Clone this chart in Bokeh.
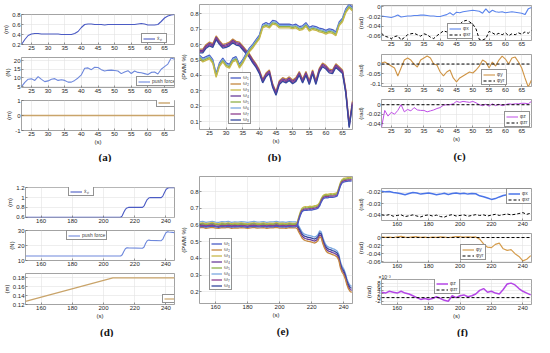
from bokeh.plotting import figure
from bokeh.models import Range1d, FixedTicker, CustomJSTickFormatter, Legend, LegendItem
from bokeh.layouts import column, row
from bokeh.embed import file_html
from bokeh.resources import INLINE
from bokeh.core.properties import value

# ---------------- data ----------------
t_a = list(range(22, 69))
a1_xp = [0.20, 0.30, 0.38, 0.41, 0.42, 0.42, 0.41, 0.41, 0.41, 0.41,
         0.41, 0.41, 0.40, 0.40, 0.40, 0.40, 0.42, 0.46, 0.54, 0.60,
         0.61, 0.61, 0.60, 0.60, 0.60, 0.59, 0.60, 0.60, 0.60, 0.60,
         0.60, 0.60, 0.60, 0.60, 0.60, 0.61, 0.62, 0.61, 0.59, 0.59,
         0.59, 0.60, 0.66, 0.73, 0.77, 0.79, 0.80]
a2_force = [5.0, 7.5, 9.3, 9.5, 8.6, 10.8, 9.2, 7.9, 8.3, 9.3,
            9.6, 8.6, 9.0, 8.6, 7.6, 7.6, 8.6, 10.0, 11.8, 15.6,
            15.8, 14.8, 16.2, 16.0, 14.8, 14.0, 14.4, 14.5, 14.3, 14.0,
            12.5, 13.5, 14.2, 12.6, 14.0, 13.2, 13.0, 12.5, 12.0, 13.2,
            13.4, 12.3, 15.0, 16.5, 18.0, 21.5, 20.8]
a3_t = [22, 68]
a3_v = [0.0, 0.0]

b_U = [0.565, 0.565, 0.595, 0.610, 0.600, 0.650, 0.620, 0.595, 0.600, 0.610,
       0.630, 0.615, 0.610, 0.585, 0.560, 0.535, 0.500, 0.470, 0.430, 0.370,
       0.410, 0.430, 0.340, 0.290, 0.360, 0.380, 0.370, 0.385, 0.365, 0.380,
       0.420, 0.370, 0.420, 0.360, 0.430, 0.360, 0.440, 0.475, 0.460, 0.435,
       0.430, 0.470, 0.450, 0.430, 0.300, 0.080, 0.230]
b_L = [0.520, 0.500, 0.510, 0.520, 0.490, 0.400, 0.470, 0.500, 0.470, 0.460,
       0.500, 0.510, 0.460, 0.490, 0.530, 0.565, 0.590, 0.620, 0.650, 0.720,
       0.730, 0.720, 0.745, 0.740, 0.720, 0.720, 0.720, 0.720, 0.715, 0.720,
       0.705, 0.710, 0.730, 0.700, 0.710, 0.705, 0.695, 0.690, 0.680, 0.690,
       0.685, 0.670, 0.735, 0.760, 0.820, 0.850, 0.830]
b_U_members = [2, 4, 7, 8]
b_U_spread = [0.006, -0.002, -0.010, -0.018]
b_L_members = [1, 6, 5, 3]
b_L_spread = [0.012, 0.004, -0.004, -0.012]
motor_names = ["ω₁", "ω₂", "ω₃", "ω₄", "ω₅", "ω₆", "ω₇", "ω₈"]
motor_colors = ["#4a5cc4", "#c5873e", "#c8b84a", "#6a3d9a",
                "#8fb04a", "#7aa8e0", "#8e3f8e", "#34479e"]

c1_phi = [-0.019, -0.020, -0.021, -0.022, -0.020, -0.017, -0.021, -0.020, -0.019, -0.019,
          -0.018, -0.018, -0.017, -0.017, -0.018, -0.019, -0.019, -0.020, -0.020, -0.018,
          -0.016, -0.012, -0.017, -0.011, -0.012, -0.010, -0.009, -0.008, -0.007, -0.008,
          -0.009, -0.013, -0.004, -0.012, -0.007, -0.010, -0.011, -0.010, -0.012, -0.011,
          -0.010, -0.011, -0.012, -0.013, -0.016, -0.004, -0.001]
c1_ref = [-0.055, -0.061, -0.063, -0.066, -0.062, -0.060, -0.069, -0.064, -0.058, -0.056,
          -0.055, -0.058, -0.061, -0.056, -0.058, -0.063, -0.066, -0.060, -0.055, -0.050,
          -0.052, -0.056, -0.049, -0.043, -0.036, -0.030, -0.028, -0.031, -0.036, -0.046,
          -0.068, -0.069, -0.066, -0.051, -0.054, -0.058, -0.055, -0.058, -0.054, -0.060,
          -0.056, -0.058, -0.054, -0.057, -0.052, -0.055, -0.049]
c2_phi = [0.005, 0.010, 0.000, -0.010, -0.020, -0.060, -0.020, 0.020, 0.030, 0.020,
          0.000, -0.015, 0.020, 0.030, 0.040, 0.030, 0.000, -0.005, -0.040, -0.060,
          -0.040, -0.030, -0.070, -0.090, -0.070, -0.060, -0.050, -0.040, -0.045, -0.030,
          -0.010, 0.020, 0.010, -0.020, 0.010, -0.010, 0.020, 0.040, 0.025, 0.000,
          0.030, 0.035, 0.010, -0.020, -0.070, -0.115, -0.080]
c3_phi = [-0.048, -0.012, -0.024, -0.016, -0.020, -0.012, 0.000, -0.015, -0.010, -0.013,
          -0.006, -0.011, -0.012, -0.012, -0.015, -0.013, -0.011, -0.008, -0.006, -0.001,
          0.000, 0.000, 0.002, 0.007, 0.005, 0.007, 0.006, 0.005, 0.007, 0.004,
          0.000, -0.002, 0.001, -0.003, 0.002, -0.002, 0.001, -0.002, 0.000, 0.002,
          0.001, 0.002, 0.002, 0.003, 0.003, 0.002, 0.007]
zero_a = [0.0, 0.0]

d1_t = [150, 211, 212, 213, 214, 215, 216, 225, 226, 227, 228, 229, 230, 237, 238, 239, 240, 241, 242, 245.5]
d1_xp = [0.6, 0.6, 0.63, 0.7, 0.76, 0.79, 0.8, 0.8, 0.83, 0.9, 0.96, 0.99, 1.0, 1.0, 1.03, 1.1, 1.16, 1.19, 1.2, 1.2]
d2_force = [13.0, 13.0, 13.8, 16.0, 17.8, 18.5, 18.4, 18.2, 19.0, 21.5, 23.2, 23.6, 23.4, 23.2, 24.2, 26.5, 28.5, 29.2, 29.0, 28.6]
d3_t = [150, 206, 245.5]
d3_v = [0.127, 0.18, 0.18]

e_t = list(range(150, 211, 2)) + list(range(211, 246))
e_pre = [0.600, 0.603, 0.598, 0.601, 0.604, 0.599, 0.597, 0.602, 0.600, 0.603,
         0.598, 0.601, 0.599, 0.602, 0.600, 0.597, 0.601, 0.603, 0.599, 0.600,
         0.602, 0.598, 0.601, 0.600, 0.604, 0.599, 0.601, 0.598, 0.602, 0.600,
         0.601]
e_up_post = [0.605, 0.640, 0.670, 0.690, 0.697, 0.700, 0.698, 0.700, 0.702, 0.700,
             0.703, 0.705, 0.707, 0.712, 0.725, 0.748, 0.765, 0.772, 0.775, 0.773,
             0.776, 0.778, 0.776, 0.778, 0.780, 0.785, 0.815, 0.845, 0.862, 0.868,
             0.870, 0.872, 0.874, 0.873, 0.875]
e_low_post = [0.595, 0.575, 0.558, 0.540, 0.530, 0.525, 0.522, 0.520, 0.518, 0.515,
              0.512, 0.510, 0.515, 0.525, 0.548, 0.540, 0.505, 0.480, 0.462, 0.452,
              0.448, 0.445, 0.440, 0.438, 0.432, 0.425, 0.405, 0.360, 0.335, 0.320,
              0.295, 0.260, 0.235, 0.220, 0.215]
e_up_members = [3, 5, 7, 1]
e_up_spread = [0.010, 0.003, -0.004, -0.011]
e_low_members = [6, 8, 4, 2]
e_low_spread = [0.018, 0.006, -0.006, -0.018]

f_t = [150 + 2.5 * k for k in range(39)]
f1_phi = [-0.0190, -0.0195, -0.0192, -0.0200, -0.0205, -0.0212, -0.0220, -0.0210, -0.0200, -0.0205,
          -0.0215, -0.0210, -0.0205, -0.0212, -0.0220, -0.0215, -0.0208, -0.0218, -0.0210, -0.0205,
          -0.0212, -0.0208, -0.0215, -0.0210, -0.0212, -0.0230, -0.0238, -0.0250, -0.0262, -0.0255,
          -0.0240, -0.0228, -0.0220, -0.0222, -0.0218, -0.0225, -0.0235, -0.0285, -0.0292]
f1_ref = [-0.0400, -0.0405, -0.0398, -0.0412, -0.0405, -0.0400, -0.0415, -0.0408, -0.0400, -0.0410,
          -0.0418, -0.0405, -0.0400, -0.0410, -0.0402, -0.0415, -0.0420, -0.0405, -0.0398, -0.0410,
          -0.0405, -0.0400, -0.0412, -0.0405, -0.0398, -0.0405, -0.0400, -0.0410, -0.0402, -0.0395,
          -0.0405, -0.0398, -0.0392, -0.0400, -0.0395, -0.0388, -0.0380, -0.0395, -0.0385]
f2_phi = [0.0015, 0.0005, 0.0010, 0.0000, 0.0020, 0.0030, 0.0010, 0.0005, 0.0015, 0.0020,
          0.0005, 0.0010, 0.0000, 0.0010, 0.0005, 0.0015, 0.0010, 0.0000, 0.0010, 0.0025,
          0.0020, 0.0010, 0.0015, 0.0010, 0.0015, -0.0040, -0.0160, -0.0240, -0.0250, -0.0170,
          -0.0140, -0.0280, -0.0320, -0.0300, -0.0400, -0.0470, -0.0580, -0.0540, -0.0450]
f3_phi_e3 = [3.0, 2.5, 3.5, 3.0, 2.5, 3.5, 2.5, 2.0, 1.0, 0.0,
             -1.0, -0.5, -1.0, -0.5, 0.5, -0.5, -1.5, -2.0, 1.0, 0.0,
             1.0, 1.5, 0.5, 1.0, 2.0, 4.0, 5.0, 3.0, 3.5, 2.5,
             2.0, 4.5, 7.5, 8.0, 7.0, 5.0, 3.5, 2.5, 1.5]
t_d = [150, 245.5]
zero_d = [0.0, 0.0]

panel_labels = ["(a)", "(b)", "(c)", "(d)", "(e)", "(f)"]

# ---------------- styling helpers ----------------
FONT = "Liberation Sans"
BLUE = "#4b5bc4"
LBLUE = "#6e88dc"
TAN = "#c9a46a"
C_BLUE = "#5a84ec"
C_ORANGE = "#cf9445"
C_VIOLET = "#bf4ee6"
DASH = "3 2"


def mk(w, h, xr, yr, xt, yt, bl, br, bt, bb, ylab, xlab=None):
    p = figure(width=w, height=h, x_range=Range1d(*xr), y_range=Range1d(*yr),
               output_backend="svg", toolbar_location=None,
               min_border_left=bl, min_border_right=br,
               min_border_top=bt, min_border_bottom=bb)
    p.background_fill_color = "white"
    p.border_fill_color = "white"
    p.outline_line_color = "#8c8c8c"
    p.outline_line_width = 0.8
    for ax, ticks in ((p.xaxis[0], xt), (p.yaxis[0], yt)):
        ax.ticker = FixedTicker(ticks=ticks)
        ax.formatter = CustomJSTickFormatter(code="return String(Math.round(tick*1e6)/1e6);")
        ax.major_label_text_font = FONT
        ax.major_label_text_font_size = "6px"
        ax.major_label_text_color = "#262626"
        ax.major_label_standoff = 1
        ax.major_tick_in = 2
        ax.major_tick_out = 0
        ax.major_tick_line_color = "#555555"
        ax.major_tick_line_width = 0.6
        ax.minor_tick_line_color = None
        ax.axis_line_color = None
        ax.axis_label_text_font = FONT
        ax.axis_label_text_font_size = "6px"
        ax.axis_label_text_font_style = "normal"
        ax.axis_label_text_color = "#262626"
        ax.axis_label_standoff = 0
    p.yaxis[0].axis_label = ylab
    if xlab:
        p.xaxis[0].axis_label = xlab
    p.grid.grid_line_color = "#e3e3e3"
    p.grid.grid_line_width = 0.6
    return p


def leg(p, items, loc, gw=12, lw=6):
    L = Legend(items=[LegendItem(label=t, renderers=[r]) for t, r in items],
               location=loc, label_text_font=FONT, label_text_font_size="5px",
               label_height=5, label_width=lw, glyph_height=5, glyph_width=gw,
               label_standoff=2, spacing=0, padding=1, margin=0,
               border_line_color="#262626", border_line_width=0.5,
               background_fill_color="white", background_fill_alpha=1)
    p.add_layout(L)


def lab_fig(w, h, txt, fx):
    p = figure(width=w, height=h, x_range=Range1d(0, 1), y_range=Range1d(0, 1),
               output_backend="svg", toolbar_location=None, min_border=0)
    p.axis.visible = False
    p.grid.visible = False
    p.outline_line_color = None
    p.text(x=[fx], y=[0.5], text=[txt], text_align="center", text_baseline="middle",
           text_font=value("Liberation Serif"), text_font_style="bold",
           text_font_size="11px", text_color="#111111")
    return p


XA = (22, 68)
XT_A = [25, 30, 35, 40, 45, 50, 55, 60, 65]
XD = (150, 245.5)
XT_D = [160, 180, 200, 220, 240]

# ---------------- panel (a) ----------------
a1 = mk(178, 54, XA, (0.2, 0.8), XT_A, [0.2, 0.4, 0.6, 0.8], 20, 4, 14, 10, "(m)")
r = a1.line(t_a, a1_xp, line_color=BLUE, line_width=1.1)
leg(a1, [("ẋₚ", r)], (120, 1), lw=8)

a2 = mk(178, 43, XA, (4.5, 21.8), XT_A, [5, 10, 15, 20], 20, 4, 3, 10, "(N)")
r = a2.line(t_a, a2_force, line_color=LBLUE, line_width=1.1)
leg(a2, [("push force", r)], (115, 1))

a3 = mk(178, 53, XA, (-1, 1), XT_A, [-1, 0, 1], 20, 4, 3, 20, "(m)", "(s)")
r = a3.line(a3_t, a3_v, line_color=TAN, line_width=1.4)
leg(a3, [(" ", r)], (135, 23), lw=1)

# ---------------- panel (b) ----------------
b = mk(176, 150, XA, (0.05, 0.86), XT_A, [0.1, 0.2, 0.3, 0.4, 0.5, 0.6, 0.7, 0.8],
       19, 2, 4, 21, "(PWM %)", "(s)")
b_r = {}
for m, off in zip(b_U_members, b_U_spread):
    b_r[m] = b.line(t_a, [v + off for v in b_U], line_color=motor_colors[m - 1], line_width=1.3)
for m, off in zip(b_L_members, b_L_spread):
    b_r[m] = b.line(t_a, [v + off for v in b_L], line_color=motor_colors[m - 1], line_width=1.3)
leg(b, [(motor_names[i], b_r[i + 1]) for i in range(8)], (29, 5), gw=11)

# ---------------- panel (c) ----------------
c1 = mk(180, 50, XA, (-0.07, 0.003), XT_A, [-0.06, -0.04, -0.02, 0], 25, 3, 5, 10, "(rad)")
r1 = c1.line(t_a, c1_phi, line_color=C_BLUE, line_width=1.1)
r2 = c1.line(t_a, c1_ref, line_color="black", line_width=1.0, line_dash=DASH)
leg(c1, [("φx", r1), ("φxr", r2)], (66, 1), lw=8)

c2 = mk(180, 46, XA, (-0.113, 0.048), XT_A, [-0.1, -0.05, 0], 25, 3, 4, 10, "(rad)")
r1 = c2.line(t_a, c2_phi, line_color=C_ORANGE, line_width=1.1)
r2 = c2.line(a3_t, zero_a, line_color="black", line_width=1.0, line_dash=DASH)
leg(c2, [("φy", r1), ("φyr", r2)], (100, 1), lw=8)

c3 = mk(180, 52, XA, (-0.048, 0.011), XT_A, [-0.04, -0.02, 0], 25, 3, 3, 21, "(rad)", "(s)")
r1 = c3.line(t_a, c3_phi, line_color=C_VIOLET, line_width=1.0)
r2 = c3.line(a3_t, zero_a, line_color="black", line_width=1.0, line_dash=DASH)
leg(c3, [("φz", r1), ("φzr", r2)], (123, 0), lw=8)

# ---------------- panel (d) ----------------
d1 = mk(178, 65, XD, (0.595, 1.205), XT_D, [0.6, 0.8, 1, 1.2], 21, 4, 25, 10, "(m)")
r = d1.line(d1_t, d1_xp, line_color=BLUE, line_width=1.1)
leg(d1, [("ẋₚ", r)], (43, 21), lw=8)

d2 = mk(178, 43, XD, (10, 30), XT_D, [10, 20, 30], 21, 4, 3, 10, "(N)")
r = d2.line(d1_t, d2_force, line_color=LBLUE, line_width=1.1)
leg(d2, [("push force", r)], (41, 20))

d3 = mk(178, 55, XD, (0.12, 0.19), XT_D, [0.12, 0.14, 0.16, 0.18], 21, 4, 3, 21, "(m)", "(s)")
r = d3.line(d3_t, d3_v, line_color=TAN, line_width=1.2)
leg(d3, [(" ", r)], (137, 1), lw=1)

# ---------------- panel (e) ----------------
e = mk(176, 162, XD, (0.13, 0.89), XT_D, [0.2, 0.3, 0.4, 0.5, 0.6, 0.7, 0.8],
       19, 2, 14, 21, "(PWM %)", "(s)")
e_r = {}
for m, off in zip(e_low_members, e_low_spread):
    e_r[m] = e.line(e_t, [v + off for v in e_pre + e_low_post],
                    line_color=motor_colors[m - 1], line_width=1.3)
for m, off in zip(e_up_members, e_up_spread):
    e_r[m] = e.line(e_t, [v + off for v in e_pre + e_up_post],
                    line_color=motor_colors[m - 1], line_width=1.3)
leg(e, [(motor_names[i], e_r[i + 1]) for i in range(8)], (10, 13), gw=11)

# ---------------- panel (f) ----------------
f1 = mk(180, 68, XD, (-0.045, -0.0165), XT_D, [-0.04, -0.03, -0.02], 25, 3, 26, 10, "(rad)")
r1 = f1.line(f_t, f1_phi, line_color="#4a74e8", line_width=1.5)
r2 = f1.line(f_t, f1_ref, line_color="black", line_width=1.0, line_dash=DASH)
leg(f1, [("φx", r1), ("φxr", r2)], (125, 16), lw=8)

f2 = mk(180, 41, XD, (-0.062, 0.01), XT_D, [-0.06, -0.04, -0.02, 0], 25, 3, 3, 9, "(rad)")
r1 = f2.line(f_t, f2_phi, line_color="#d59d4e", line_width=1.2)
r2 = f2.line(t_d, zero_d, line_color="black", line_width=1.0, line_dash=DASH)
leg(f2, [("φy", r1), ("φyr", r2)], (79, 2), lw=8)

f3 = mk(180, 54, XD, (-3.8, 10), XT_D, [-2, 0, 2, 4, 6, 8], 25, 3, 7, 21, "(rad)", "(s)")
r1 = f3.line(f_t, f3_phi_e3, line_color="#b446e6", line_width=1.5)
r2 = f3.line(t_d, zero_d, line_color="black", line_width=1.0, line_dash=DASH)
leg(f3, [("φz", r1), ("φzr", r2)], (53, 10), lw=8)
f3.title.text = "×10⁻³"
f3.title.text_font = FONT
f3.title.text_font_size = "5px"
f3.title.text_font_style = "normal"
f3.title.text_color = "#262626"
f3.title.align = "left"
f3.title.standoff = 0
f3.title.offset = -3

# ---------------- layout ----------------
colA = column(a1, a2, a3, lab_fig(178, 12, panel_labels[0], 0.545))
colB = column(b, lab_fig(176, 12, panel_labels[1], 0.49))
colC = column(c1, c2, c3, lab_fig(180, 14, panel_labels[2], 0.52))
colD = column(d1, d2, d3, lab_fig(178, 12, panel_labels[3], 0.545))
colE = column(e, lab_fig(176, 13, panel_labels[4], 0.545))
colF = column(f1, f2, f3, lab_fig(180, 12, panel_labels[5], 0.54))

page = column(row(colA, colB, colC), row(colD, colE, colF))

open("out.html", "w").write(file_html(page, INLINE))
